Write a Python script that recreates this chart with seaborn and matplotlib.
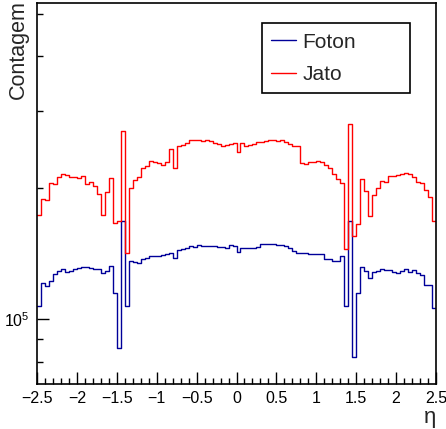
import numpy as np
import pandas as pd
import seaborn as sns
import matplotlib
matplotlib.use("Agg")
import matplotlib.pyplot as plt
from matplotlib.lines import Line2D
from matplotlib.ticker import FixedLocator, NullFormatter, FixedFormatter

# eta binning: 100 bins from -2.5 to 2.5
eta_edges = np.linspace(-2.5, 2.5, 101)

foton_counts = [
    107200, 120800, 119100, 122100, 126700, 128600, 130000, 128100, 128600, 130000,
    131100, 131800, 131600, 130700, 130200, 130000, 127600, 129000, 132100, 114600,
    86000, 167800, 107200, 135700, 135200, 134700, 137300, 138300, 139700, 139500,
    139300, 140300, 140800, 141500, 138300, 144100, 145100, 145400, 147100, 146400,
    147700, 147100, 147100, 147100, 146900, 146400, 146400, 145800, 147700, 146900,
    142250, 145800, 145800, 145800, 145800, 146100, 148400, 148700, 148900, 148900,
    148100, 147900, 146900, 145600, 143500, 142000, 142000, 141500, 140800, 140800,
    141200, 141200, 137300, 137300, 136100, 136100, 139700, 107200, 167500, 82000,
    114900, 131800, 129000, 124000, 128300, 129000, 130000, 129500, 129500, 128300,
    127600, 129000, 130400, 128300, 129500, 127600, 126000, 119700, 119700, 106200,
]

jato_counts = [
    172900, 188800, 187500, 204700, 204000, 211600, 214600, 213600, 211900, 211300,
    210800, 212400, 203600, 206400, 201800, 193000, 172900, 195900, 210200, 165800,
    167800, 269700, 141500, 200000, 207700, 211900, 221500, 224300, 229900, 229000,
    227500, 225800, 228600, 244900, 221500, 248400, 250100, 252800, 256300, 256800,
    256300, 255900, 256300, 255400, 252800, 251800, 249300, 249700, 251800, 252800,
    241800, 252800, 249300, 249700, 251800, 253600, 254900, 255900, 257600, 256800,
    255400, 256800, 253600, 251000, 248400, 248400, 227500, 226600, 229400, 229400,
    230200, 228600, 225400, 221500, 214600, 209400, 205400, 144800, 279400, 155300,
    165200, 209100, 196300, 172300, 192500, 199700, 207200, 206400, 212800, 212800,
    213900, 214600, 215800, 215300, 211900, 206400, 205400, 197600, 190200, 168000,
]

series_names = ["Foton", "Jato"]
series_colors = ["#000099", "#ff0000"]
xtick_values = [-2.5, -2, -1.5, -1, -0.5, 0, 0.5, 1, 1.5, 2, 2.5]
xtick_labels = ["\u22122.5", "\u22122", "\u22121.5", "\u22121", "\u22120.5", "0",
                "0.5", "1", "1.5", "2", "2.5"]


def main():
    sns.set_style("white")
    plt.rcParams["font.family"] = ["Liberation Sans", "DejaVu Sans"]
    plt.rcParams["mathtext.fontset"] = "custom"
    plt.rcParams["mathtext.rm"] = "Liberation Sans"

    centers = 0.5 * (eta_edges[:-1] + eta_edges[1:])
    df = pd.DataFrame({
        "eta": np.concatenate([centers, centers]),
        "counts": np.concatenate([foton_counts, jato_counts]),
        "tipo": [series_names[0]] * len(centers) + [series_names[1]] * len(centers),
    })

    fig = plt.figure(figsize=(4.46, 4.29), dpi=100)
    ax = fig.add_axes([37 / 446, 45 / 429, 399 / 446, 381 / 429])
    ax.set_yscale("log")

    for name, color in zip(series_names, series_colors):
        sub = df[df["tipo"] == name]
        sns.histplot(data=sub, x="eta", weights="counts", bins=list(eta_edges),
                     element="step", fill=False, color=color, linewidth=1.0, ax=ax)

    ax.set_xlim(-2.5, 2.5)
    ax.set_ylim(71100, 528600)

    # ROOT-like ticks, pointing inwards, only bottom and left
    ax.xaxis.set_major_locator(FixedLocator(xtick_values))
    ax.xaxis.set_major_formatter(FixedFormatter(xtick_labels))
    ax.xaxis.set_minor_locator(FixedLocator(np.arange(-2.5, 2.51, 0.1)))
    ax.yaxis.set_major_locator(FixedLocator([1e5]))
    ax.yaxis.set_major_formatter(FixedFormatter(["$10^{5}$"]))
    ax.yaxis.set_minor_locator(FixedLocator([8e4, 9e4, 2e5, 3e5, 4e5, 5e5]))
    ax.yaxis.set_minor_formatter(NullFormatter())
    ax.tick_params(which="both", direction="in", bottom=True, left=True,
                   top=False, right=False, labelsize=11.5, colors="black",
                   width=1.0, pad=5)
    ax.tick_params(which="major", length=8.5)
    ax.tick_params(which="minor", length=4.5)

    for side in ["left", "bottom", "top", "right"]:
        ax.spines[side].set_color("black")
        ax.spines[side].set_linewidth(1.2)

    ax.set_xlabel("\u03b7", loc="right", fontsize=16)
    ax.xaxis.set_label_coords(1.0, -0.06)
    ax.set_ylabel("Contagem", loc="top", fontsize=15.5)
    ax.yaxis.set_label_coords(-0.02, 1.008)

    handles = [Line2D([0], [0], color=c, lw=1.0) for c in series_colors]
    leg = ax.legend(handles, series_names, loc="upper left",
                    bbox_to_anchor=(0.564, 0.769, 0.371, 0.178), mode="expand",
                    borderaxespad=0, fancybox=False, framealpha=1,
                    edgecolor="black", fontsize=15, handlelength=1.2,
                    labelspacing=0.65, borderpad=0.45, handletextpad=0.3)
    leg.get_frame().set_linewidth(1.2)

    fig.savefig("out.png", dpi=100)


if __name__ == "__main__":
    main()
